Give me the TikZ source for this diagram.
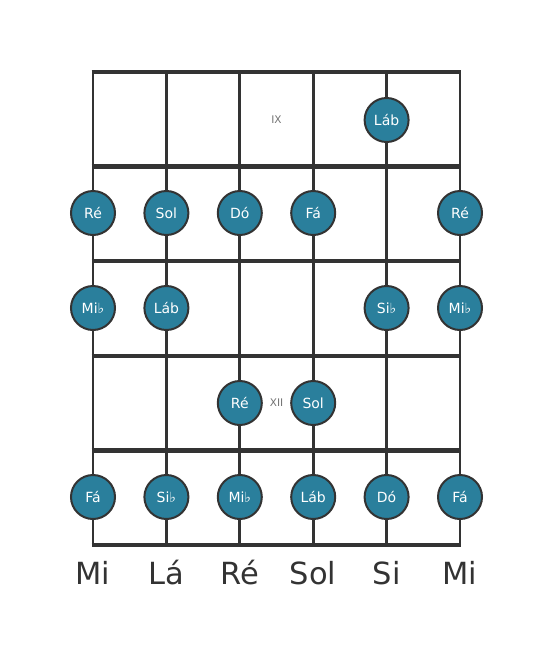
\documentclass[tikz,border=0pt]{standalone}
\usepackage{fontspec}
\setmainfont{DejaVu Sans}
\begin{document}
\begin{tikzpicture}[x=1pt,y=-1pt,
  fretline/.style={line width=4.5pt,draw=black!80},
  stringline/.style={line width=2.8pt,draw=black!80},
  note/.style={circle,minimum size=44pt,inner sep=0pt,fill=notecol,draw=black!80,line width=2pt,text=white,font=\fontsize{14}{14}\selectfont},
  marker/.style={text=black!55,font=\fontsize{10.5}{10.5}\selectfont},
  sname/.style={text=black!80,font=\fontsize{30.5}{30.5}\selectfont,anchor=base}]
\definecolor{notecol}{HTML}{2A7F9C}
\useasboundingbox (0,0) rectangle (553,656);
% strings
\foreach \i/\x in {1/93,2/166.4,3/239.8,4/313.2,5/386.6,6/460}{
  \coordinate (st\i) at (\x,72);
  \coordinate (sb\i) at (\x,545);
  \draw[stringline] (st\i) -- (sb\i);
}
% frets
\foreach \j/\y in {0/72,1/166.6,2/261.2,3/355.8,4/450.4,5/545}{
  \coordinate (fl\j) at (91.6,\y);
  \coordinate (fr\j) at (461.4,\y);
  \draw[fretline] (fl\j) -- (fr\j);
}
\node[marker] (m9) at (276.5,120) {IX};
\node[marker] (m12) at (276.5,403) {XII};
% notes
\node[note] (n15) at (386.6,120) {Láb};
\node[note] (n21) at (93,213) {Ré};
\node[note] (n22) at (166.4,213) {Sol};
\node[note] (n23) at (239.8,213) {Dó};
\node[note] (n24) at (313.2,213) {Fá};
\node[note] (n26) at (460,213) {Ré};
\node[note] (n31) at (93,308) {Mi♭};
\node[note] (n32) at (166.4,308) {Láb};
\node[note] (n35) at (386.6,308) {Si♭};
\node[note] (n36) at (460,308) {Mi♭};
\node[note] (n43) at (239.8,403) {Ré};
\node[note] (n44) at (313.2,403) {Sol};
\node[note] (n51) at (93,497) {Fá};
\node[note] (n52) at (166.4,497) {Si♭};
\node[note] (n53) at (239.8,497) {Mi♭};
\node[note] (n54) at (313.2,497) {Láb};
\node[note] (n55) at (386.6,497) {Dó};
\node[note] (n56) at (460,497) {Fá};
% string names
\node[sname] (l1) at (93,584) {Mi};
\node[sname] (l2) at (166.4,584) {Lá};
\node[sname] (l3) at (239.8,584) {Ré};
\node[sname] (l4) at (313.2,584) {Sol};
\node[sname] (l5) at (386.6,584) {Si};
\node[sname] (l6) at (460,584) {Mi};
\end{tikzpicture}
\end{document}
